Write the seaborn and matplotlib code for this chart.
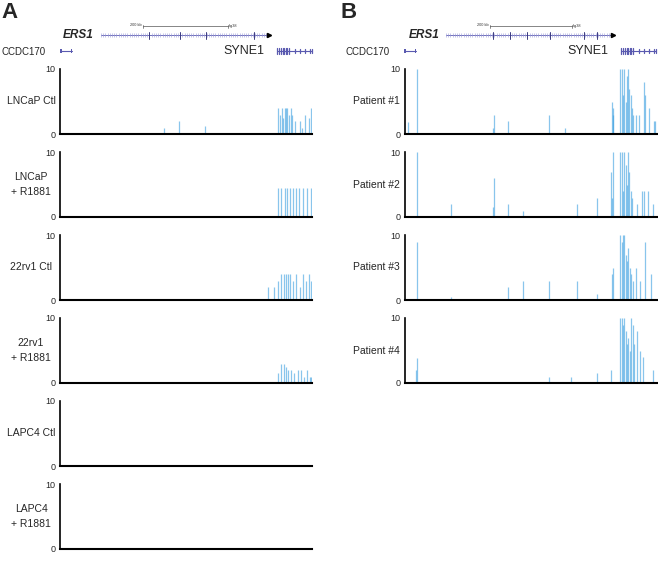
import numpy as np
import pandas as pd
import matplotlib
matplotlib.use("Agg")
import matplotlib.pyplot as plt
import seaborn as sns

###############################################################################
# Data (x = position across the ERS1/SYNE1 window, 0-100; y = signal, 0-10)
###############################################################################

labels_a = ["LNCaP Ctl", "LNCaP\n+ R1881", "22rv1 Ctl", "22rv1\n+ R1881", "LAPC4 Ctl", "LAPC4\n+ R1881"]
labels_b = ["Patient #1", "Patient #2", "Patient #3", "Patient #4"]

lncap_ctl_x = [41.3, 47.2, 57.5, 86.6, 87.3, 88.0, 88.6, 89.2, 89.7, 90.2, 91.0, 91.7, 92.2, 93.3, 95.2, 95.9, 97.4, 99.0, 99.8]
lncap_ctl_y = [0.9, 2.0, 1.2, 4.0, 3.0, 4.0, 2.5, 4.0, 4.0, 4.0, 3.0, 4.0, 3.0, 2.0, 2.0, 1.0, 3.0, 2.5, 4.0]

lncap_r_x = [86.5, 87.7, 89.3, 90.1, 91.3, 92.5, 93.7, 94.8, 96.4, 98.0, 99.6]
lncap_r_y = [4.5, 4.5, 4.5, 4.5, 4.5, 4.5, 4.5, 4.5, 4.5, 4.5, 4.5]

rv1_ctl_x = [82.5, 84.9, 86.5, 87.7, 88.9, 89.7, 90.5, 91.3, 92.5, 93.7, 95.2, 96.4, 97.6, 98.8, 99.8]
rv1_ctl_y = [2.0, 2.0, 3.0, 4.0, 4.0, 4.0, 4.0, 4.0, 3.0, 4.0, 2.0, 4.0, 3.0, 4.0, 3.0]

rv1_r_x = [86.5, 87.7, 88.9, 89.7, 90.5, 91.7, 92.9, 94.4, 95.6, 96.8, 98.0, 99.2, 99.8]
rv1_r_y = [1.5, 3.0, 3.0, 2.5, 2.0, 2.0, 1.5, 2.0, 2.0, 1.0, 2.0, 1.0, 1.0]

pt1_x = [1.1, 4.9, 35.0, 35.2, 40.8, 57.0, 63.5, 82.1, 82.4, 82.7, 85.3, 86.0, 86.5, 87.0, 87.5, 88.0, 88.4, 88.9, 89.5, 90.0, 90.4, 91.6, 92.8, 94.8, 95.3, 96.7, 98.7, 99.4]
pt1_y = [1.9, 10.0, 1.0, 2.9, 2.0, 3.0, 1.0, 4.9, 4.0, 3.0, 10.0, 10.0, 6.0, 10.0, 5.0, 9.0, 10.0, 7.0, 6.0, 4.0, 3.0, 3.0, 3.0, 8.0, 6.0, 4.0, 2.0, 2.0]

pt2_x = [4.9, 18.2, 35.0, 35.2, 40.8, 47.0, 68.1, 76.0, 81.7, 82.2, 82.7, 85.3, 86.0, 86.5, 87.0, 87.5, 88.0, 88.4, 88.9, 89.5, 90.0, 92.2, 94.2, 94.8, 96.4, 98.3]
pt2_y = [10.0, 2.0, 1.5, 6.0, 2.0, 1.0, 2.0, 3.0, 7.0, 3.0, 10.0, 10.0, 10.0, 4.0, 10.0, 8.0, 5.0, 10.0, 7.0, 4.0, 3.0, 2.0, 4.0, 4.0, 4.0, 2.0]

pt3_x = [4.9, 18.2, 40.8, 47.0, 57.3, 68.1, 76.0, 82.1, 82.6, 85.3, 86.0, 86.6, 87.1, 87.6, 88.1, 88.6, 89.1, 89.7, 90.3, 91.6, 93.4, 95.4, 97.8]
pt3_y = [9.0, 0.5, 2.0, 3.0, 3.0, 3.0, 1.0, 4.0, 5.0, 10.0, 9.0, 10.0, 10.0, 7.0, 6.0, 8.0, 5.0, 4.0, 3.0, 5.0, 3.0, 9.0, 4.0]

pt4_x = [4.5, 4.9, 57.3, 66.0, 76.0, 81.7, 85.3, 86.0, 86.6, 87.1, 87.6, 88.1, 88.6, 89.1, 89.7, 90.3, 91.0, 92.2, 93.4, 94.6, 98.3]
pt4_y = [2.0, 3.9, 1.0, 1.0, 1.5, 2.0, 10.0, 10.0, 9.0, 10.0, 8.0, 6.0, 7.0, 5.0, 10.0, 9.0, 6.0, 8.0, 5.0, 4.0, 2.0]

tracks_a = [(lncap_ctl_x, lncap_ctl_y), (lncap_r_x, lncap_r_y), (rv1_ctl_x, rv1_ctl_y),
            (rv1_r_x, rv1_r_y), ([], []), ([], [])]
tracks_b = [(pt1_x, pt1_y), (pt2_x, pt2_y), (pt3_x, pt3_y), (pt4_x, pt4_y)]

###############################################################################
# Layout helpers (pixels -> figure fraction)
###############################################################################

W, H = 658, 574
BAR_COLOR = "#3a9fe0"
GENE_COLOR = "#5a5ab0"
TRACK_TOPS = [69, 152, 235, 318, 401, 484]
TRACK_H = 65


def add_track(fig, left, width, top, label, xs, ys, label_x):
    ax = fig.add_axes([left / W, 1 - (top + TRACK_H) / H, width / W, TRACK_H / H])
    ax.vlines(xs, 0, ys, color=BAR_COLOR, alpha=0.6, linewidth=0.9)
    ax.set_xlim(0, 100)
    ax.set_ylim(0, 10)
    ax.set_yticks([0, 10])
    ax.set_yticklabels(["0", "10"])
    ax.set_xticks([])
    ax.tick_params(axis="y", length=2, width=0.6, labelsize=6.5, pad=1.5)
    sns.despine(ax=ax, top=True, right=True)
    ax.spines["left"].set_linewidth(1.2)
    ax.spines["bottom"].set_linewidth(1.5)
    ax.spines["left"].set_color("black")
    ax.spines["bottom"].set_color("black")
    ax.patch.set_alpha(0)
    fig.text(label_x / W, 1 - (top + TRACK_H / 2) / H, label, ha="center", va="center",
             fontsize=7.5, linespacing=1.6)
    return ax


def draw_header(ax, letter, letter_x, ers_text_r, g0, g1, exons, sb0, sb1, cc_x, cc_g, syne_r, syne_g):
    ax.text(letter_x, 12, letter, fontsize=16, fontweight="bold", ha="left", va="center")
    # scale bar
    ax.plot([sb0, sb1], [26, 26], color="#555555", lw=0.5)
    ax.plot([sb0, sb0], [24.5, 27.5], color="#555555", lw=0.5)
    ax.plot([sb1, sb1], [24.5, 27.5], color="#555555", lw=0.5)
    ax.text(sb0 - 1, 25.5, "200 kb", fontsize=2.8, ha="right", va="center", color="#333333")
    ax.text(sb1 + 1, 25.5, "hg38", fontsize=2.8, ha="left", va="center", color="#333333")
    # ERS1 gene
    ax.text(ers_text_r, 34.5, "ERS1", fontsize=8.5, fontweight="bold", fontstyle="italic", ha="right", va="center")
    ax.plot([g0, g1], [35, 35], color=GENE_COLOR, lw=0.6)
    ticks = np.arange(g0, g1, 2.2)
    ax.plot(ticks, np.full_like(ticks, 35), ls="none", marker="|", ms=2.5, mew=0.4, color="#9a9ad8")
    for e in exons:
        ax.plot([e, e], [31.5, 38.5], color="#3a3a80", lw=0.7)
    ax.plot([g1], [35], marker=">", ms=3, color="black")
    # CCDC170
    ax.text(cc_x, 52, "CCDC170", fontsize=7, ha="left", va="center")
    ax.plot([cc_g, cc_g + 12], [51, 51], color=GENE_COLOR, lw=0.8)
    ax.add_patch(plt.Rectangle((cc_g, 49), 1.5, 4, color=GENE_COLOR, lw=0))
    ax.add_patch(plt.Rectangle((cc_g + 10.5, 49), 1.5, 4, color=GENE_COLOR, lw=0))
    # SYNE1
    ax.text(syne_r, 51.5, "SYNE1", fontsize=9, ha="right", va="center")
    ax.plot([syne_g, syne_g + 35], [51, 51], color=GENE_COLOR, lw=0.8)
    for k, e in enumerate([0, 2, 4, 5.5, 7, 8.5, 10, 12, 18, 23, 28, 33, 35]):
        hgt = 3 if k < 8 else 2
        ax.plot([syne_g + e, syne_g + e], [51 - hgt, 51 + hgt], color=GENE_COLOR, lw=0.9)


###############################################################################
# Plot
###############################################################################

sns.set_style("white")
plt.rcParams["font.family"] = ["Liberation Sans", "DejaVu Sans"]

fig = plt.figure(figsize=(W / 100, H / 100), dpi=100)

hdr = fig.add_axes([0, 0, 1, 1])
hdr.set_xlim(0, W)
hdr.set_ylim(H, 0)
hdr.axis("off")

draw_header(hdr, "A", 1, 94, 101, 269, [149, 180, 206, 254], 143, 228, 2, 60, 264, 277)
draw_header(hdr, "B", 341, 440, 446, 613, [493, 510, 527, 550, 584, 597], 490, 572, 346, 404, 608, 621)

for i, (lab, (xs, ys)) in enumerate(zip(labels_a, tracks_a)):
    add_track(fig, 60, 252, TRACK_TOPS[i], lab, xs, ys, 31)

for i, (lab, (xs, ys)) in enumerate(zip(labels_b, tracks_b)):
    add_track(fig, 405, 252, TRACK_TOPS[i], lab, xs, ys, 376)

fig.savefig("out.png", dpi=100)
